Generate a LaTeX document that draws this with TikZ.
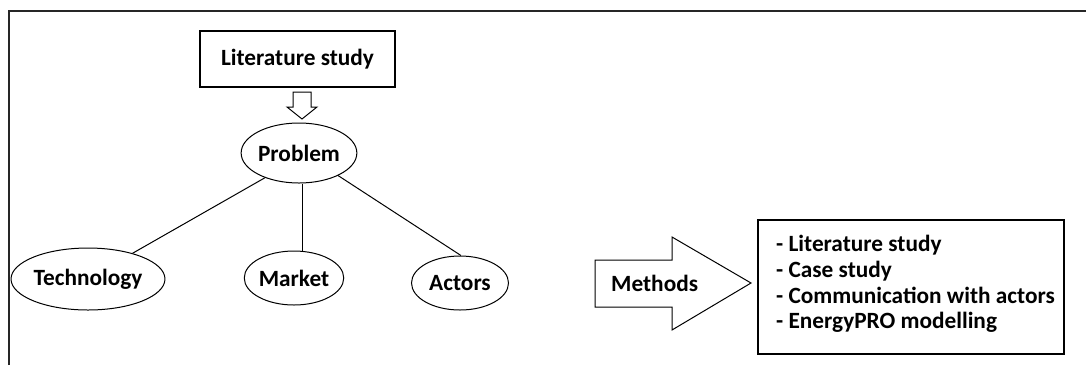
\documentclass[tikz,border=0pt]{standalone}
\usepackage{fontspec}
\setmainfont{Carlito}
\usetikzlibrary{shapes.geometric}
\tikzset{
  lbl/.style={font=\bfseries\fontsize{23.3}{25.7}\selectfont, text=black},
  boxnode/.style={draw, line width=1.2pt, rectangle, inner sep=0pt, lbl},
  oval/.style={draw, line width=1pt, ellipse, inner sep=0pt, lbl},
  link/.style={line width=1pt},
  blockarrow/.style={draw, line width=1pt, fill=white},
  frame/.style={line width=2pt, draw=black!85}
}
\begin{document}
\begin{tikzpicture}[x=1pt,y=-1pt]
\useasboundingbox (0,0) rectangle (1086,365);
\draw[frame] (9,365) -- (9,11) -- (1086,11);
% top box
\node[boxnode, minimum width=195pt, minimum height=56pt] (lit) at (297.5,59) {Literature study};
% down block arrow
\coordinate (dtop) at (302,92);
\draw[blockarrow] (dtop) ++(-9,0) -- ++(18,0) -- ++(0,15) -- ++(6,0) -- (302,119) -- (287,107) -- ++(6,0) -- cycle;
% ellipses
\node[oval, minimum width=106pt, minimum height=60pt] (prob) at (299,153) {Problem};
\node[oval, minimum width=142pt, minimum height=62pt] (tech) at (88,279) {Technology};
\node[oval, minimum width=96pt, minimum height=54pt] (mark) at (294,278) {Market};
\node[oval, minimum width=97pt, minimum height=54pt] (act) at (460,283) {Actors};
% links
\draw[link] (prob.216) -- (tech.30);
\draw[link] (prob.south -| 302,0) -- (mark.north -| 302,0);
\draw[link] (prob.330) -- (act.88);
% methods arrow
\draw[blockarrow] (595,260) -- (672,260) -- (672,237) -- (751,283) -- (672,330) -- (672,307) -- (595,307) -- cycle;
\node[lbl, anchor=west, inner sep=0pt] (meth) at (611,283) {Methods};
% methods box
\node[boxnode, minimum width=306pt, minimum height=134pt] (mbox) at (911,287) {};
\node[lbl, anchor=west, align=left, inner sep=0pt] (mlist) at (776,284) {- Literature study\\- Case study\\- Communication with actors\\- EnergyPRO modelling};
\end{tikzpicture}
\end{document}
